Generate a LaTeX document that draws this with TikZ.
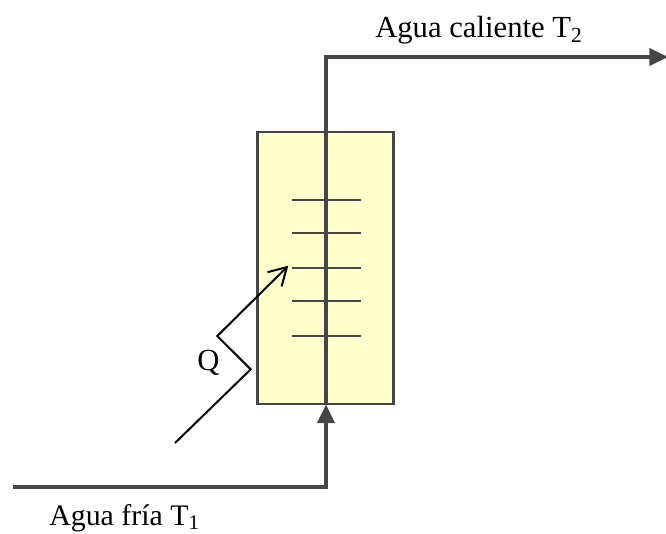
\documentclass[tikz,border=0pt]{standalone}
\usepackage{fontspec}
\setmainfont{Liberation Serif}
\usetikzlibrary{arrows.meta}
\definecolor{linegrey}{HTML}{464646}
\definecolor{boxfill}{HTML}{FFFFCC}
\tikzset{
  px/.style={x=0.75pt,y=-0.75pt},
  tank/.style={draw=linegrey,fill=boxfill,line width=1.7pt,minimum width=102pt,minimum height=204.5pt,inner sep=0pt,outer sep=0pt},
  waterline/.style={draw=linegrey,line width=2.4pt},
  tickline/.style={draw=linegrey,line width=2pt},
  flow/.style={-{Triangle[length=14pt,width=13pt]}},
  heat/.style={draw=black,line width=1.5pt,-{Straight Barb[length=13pt,width=15pt,line width=1.5pt]}},
  lab/.style={inner sep=0pt,font=\fontsize{23}{27}\selectfont}
}
\begin{document}
\begin{tikzpicture}[px]
\useasboundingbox (0,0) rectangle (666,533);
\node[tank] (box) at (325.5,268) {};
\coordinate (inA) at (13,487);
\coordinate (inB) at (326,487);
\coordinate (inC) at (326,404.5);
\coordinate (outA) at (326,57);
\coordinate (outB) at (668,57);
\draw[waterline,flow] (inA) -- (inB) -- (inC);
\draw[waterline,flow] (inC) -- (outA) -- (outB);
\foreach \n/\y in {a/200,b/233,c/268,d/301,e/336}{
  \coordinate (l\n) at (292,\y);
  \coordinate (r\n) at (361,\y);
  \draw[tickline] (l\n) -- (r\n);
}
\coordinate (q0) at (175,443);
\coordinate (q1) at (250.7,369.3);
\coordinate (q2) at (217.3,336);
\coordinate (q3) at (288.3,265.7);
\draw[heat] (q0) -- (q1) -- (q2) -- (q3);
\node[lab] (q) at (208.5,363) {Q};
\node[lab,anchor=base west] (hot) at (375,37.5) {Agua caliente T\textsubscript{2}};
\node[lab,anchor=base west,font=\fontsize{22.4}{27}\selectfont] (cold) at (49,525) {Agua fría T\textsubscript{1}};
\end{tikzpicture}
\end{document}
